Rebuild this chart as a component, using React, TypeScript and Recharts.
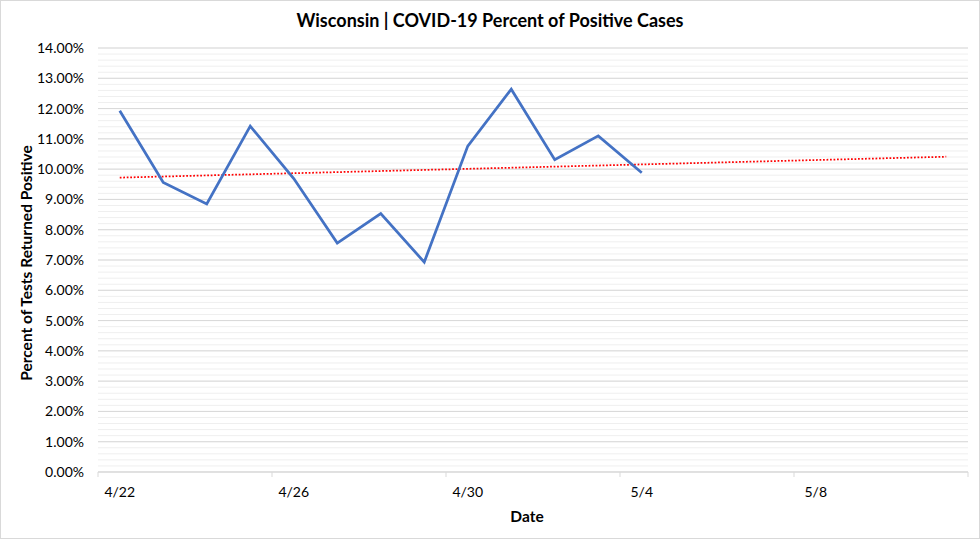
import { LineChart, Line, XAxis, YAxis, CartesianGrid } from "recharts";

// days from 4/22 through 5/11 (axis runs one day past the trend end)
const DATES = [
  "4/22", "4/23", "4/24", "4/25", "4/26", "4/27", "4/28", "4/29", "4/30", "5/1",
  "5/2", "5/3", "5/4", "5/5", "5/6", "5/7", "5/8", "5/9", "5/10", "5/11",
];
// percent of tests returned positive, 4/22 .. 5/4
const POSITIVE = [11.93, 9.56, 8.85, 11.42, 9.69, 7.56, 8.53, 6.93, 10.76, 12.64, 10.31, 11.1, 9.88];
// linear trend endpoints as drawn (first day, last forecast day)
const TREND_START = 9.72;
const TREND_END = 10.41;
const Y_MAX = 14;
const Y_TICKS = [0, 1, 2, 3, 4, 5, 6, 7, 8, 9, 10, 11, 12, 13, 14];
const MINOR_TICKS = Array.from({ length: 71 }, (_, i) => +(i * 0.2).toFixed(1));
const X_BOUNDS = [-0.5, 3.5, 7.5, 11.5, 15.5, 19.5];

const W = 978;
const H = 537;
const MARGIN = { top: 47, right: 11, bottom: 36, left: 0 };
const Y_AXIS_W = 97;
const HALF_DAY = (W - MARGIN.left - MARGIN.right - Y_AXIS_W) / DATES.length / 2;
const FONT = "Lato, 'Open Sans', sans-serif";

const data = DATES.map((d, i) => ({
  day: i,
  date: d,
  positive: i < POSITIVE.length ? POSITIVE[i] : null,
  trend: i === 0 ? TREND_START : i === DATES.length - 1 ? TREND_END : null,
}));

// minor gridlines every 0.2%
function minorRows({ yAxis, offset }: any) {
  if (yAxis && typeof yAxis.scale === "function") return MINOR_TICKS.map((v) => yAxis.scale(v));
  return MINOR_TICKS.map((v) => offset.top + offset.height * (1 - v / Y_MAX));
}

function DateTick({ x, y, payload }: any) {
  const idx = payload.value + 0.5;
  const label = idx < DATES.length ? DATES[idx] : "";
  return (
    <text x={x + HALF_DAY} y={y} dy={18} textAnchor="middle" fontSize={14} fill="#000" fontFamily={FONT}>
      {label}
    </text>
  );
}

export default function App() {
  return (
    <div
      style={{
        position: "absolute",
        left: 0,
        top: 0,
        width: W,
        height: H,
        border: "1px solid #d9d9d9",
        background: "#fff",
        fontFamily: FONT,
      }}
    >
      <div
        style={{
          position: "absolute",
          top: 8,
          width: "100%",
          textAlign: "center",
          fontSize: 18,
          fontWeight: 700,
        }}
      >
        Wisconsin | COVID-19 Percent of Positive Cases
      </div>
      <div
        style={{
          position: "absolute",
          left: 25,
          top: 262,
          transform: "translate(-50%, -50%) rotate(-90deg)",
          whiteSpace: "nowrap",
          fontSize: 15.5,
          fontWeight: 700,
        }}
      >
        Percent of Tests Returned Positive
      </div>
      <div
        style={{
          position: "absolute",
          left: 526,
          top: 515,
          transform: "translate(-50%, -50%)",
          fontSize: 15.5,
          fontWeight: 700,
        }}
      >
        Date
      </div>
      <LineChart width={W} height={H} data={data} margin={MARGIN} style={{ position: "absolute", left: 0, top: 0 }}>
        <CartesianGrid vertical={false} stroke="#efefef" horizontalCoordinatesGenerator={minorRows} />
        <CartesianGrid vertical={false} stroke="#d9d9d9" />
        <XAxis
          dataKey="day"
          type="number"
          domain={[-0.5, 19.5]}
          ticks={X_BOUNDS}
          interval={0}
          tick={<DateTick />}
          tickSize={5}
          tickLine={{ stroke: "#d9d9d9" }}
          axisLine={{ stroke: "#d9d9d9" }}
        />
        <YAxis
          domain={[0, Y_MAX]}
          ticks={Y_TICKS}
          width={Y_AXIS_W}
          axisLine={false}
          tickLine={false}
          tickSize={0}
          tickMargin={14}
          tickFormatter={(v: number) => v.toFixed(2) + "%"}
          tick={{ fontSize: 14, fill: "#000", fontFamily: FONT }}
        />
        <Line
          dataKey="trend"
          connectNulls
          stroke="#ff0000"
          strokeWidth={1.75}
          strokeDasharray="1.75 1.75"
          dot={false}
          isAnimationActive={false}
        />
        <Line
          dataKey="positive"
          stroke="#4472c4"
          strokeWidth={2.75}
          strokeLinejoin="miter"
          dot={false}
          isAnimationActive={false}
        />
      </LineChart>
    </div>
  );
}
